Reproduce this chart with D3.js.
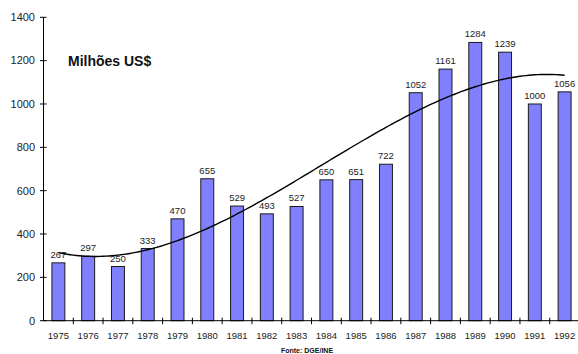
<!DOCTYPE html>
<html>
<head>
<meta charset="utf-8">
<script src="https://cdn.jsdelivr.net/npm/d3@7"></script>
<style>
  html, body { margin: 0; padding: 0; background: #fff; }
  svg { display: block; font-family: "Liberation Sans", Arial, sans-serif; }
</style>
</head>
<body>
<svg id="chart" width="578" height="354"></svg>
<script>
// Exports by year, millions of US dollars
const years = ["1975","1976","1977","1978","1979","1980","1981","1982","1983",
               "1984","1985","1986","1987","1988","1989","1990","1991","1992"];
const values = [267, 297, 250, 333, 470, 655, 529, 493, 527,
                650, 651, 722, 1052, 1161, 1284, 1239, 1000, 1056];
const yTicks = [0, 200, 400, 600, 800, 1000, 1200, 1400];
const unitLabel = "Milhões US$";
const sourceLabel = "Fonte: DGE/INE";

const svg = d3.select("#chart");
const plotL = 43.5, plotR = 579.5, plotT = 17.3, plotB = 320.7;

const x = d3.scaleBand().domain(years).range([plotL, plotR]).padding(0);
const y = d3.scaleLinear().domain([0, 1400]).range([plotB, plotT]);
const barW = x.bandwidth() * 0.435;

// bars
svg.append("g").selectAll("rect").data(values).join("rect")
  .attr("x", (d, i) => x(years[i]) + (x.bandwidth() - barW) / 2)
  .attr("y", d => y(d))
  .attr("width", barW)
  .attr("height", d => y(0) - y(d))
  .attr("fill", "#8080ff")
  .attr("stroke", "#1a1a1a")
  .attr("stroke-width", 1);

// value labels
svg.append("g").selectAll("text").data(values).join("text")
  .attr("x", (d, i) => x(years[i]) + x.bandwidth() / 2)
  .attr("y", d => y(d) - 5)
  .attr("text-anchor", "middle")
  .attr("font-size", 9.5)
  .attr("fill", "#222")
  .text(d => d);

// cubic least-squares trend through the yearly values (x = 1..n)
function polyFit(xs, ys, order) {
  const m = order + 1;
  const A = Array.from({length: m}, () => new Array(m + 1).fill(0));
  xs.forEach((xv, k) => {
    for (let r = 0; r < m; r++) {
      for (let c = 0; c < m; c++) A[r][c] += Math.pow(xv, r + c);
      A[r][m] += ys[k] * Math.pow(xv, r);
    }
  });
  for (let i = 0; i < m; i++) {
    let p = i;
    for (let r = i + 1; r < m; r++) if (Math.abs(A[r][i]) > Math.abs(A[p][i])) p = r;
    [A[i], A[p]] = [A[p], A[i]];
    for (let r = 0; r < m; r++) {
      if (r === i) continue;
      const f = A[r][i] / A[i][i];
      for (let c = i; c <= m; c++) A[r][c] -= f * A[i][c];
    }
  }
  return A.map((row, i) => row[m] / row[i]);
}
const idx = values.map((d, i) => i + 1);
const coef = polyFit(idx, values, 3);
const trend = t => coef.reduce((s, c, k) => s + c * Math.pow(t, k), 0);
const step = x.step();
const x0 = x(years[0]) + x.bandwidth() / 2;
const ts = d3.range(1, values.length + 0.001, 0.1);
svg.append("path")
  .datum(ts)
  .attr("fill", "none")
  .attr("stroke", "#000")
  .attr("stroke-width", 1.4)
  .attr("d", d3.line().x(t => x0 + (t - 1) * step).y(t => y(trend(t))));

// y axis
const gy = svg.append("g");
gy.append("line").attr("x1", plotL).attr("x2", plotL).attr("y1", plotT).attr("y2", plotB)
  .attr("stroke", "#000");
gy.selectAll("line.t").data(yTicks).join("line").attr("class", "t")
  .attr("x1", plotL - 3.5).attr("x2", plotL + 3)
  .attr("y1", d => y(d)).attr("y2", d => y(d)).attr("stroke", "#000");
gy.selectAll("text").data(yTicks).join("text")
  .attr("x", 35).attr("y", d => y(d)).attr("dy", "0.35em")
  .attr("text-anchor", "end").attr("font-size", 11).attr("fill", "#222")
  .text(d => d);

// x axis
const gx = svg.append("g");
gx.append("line").attr("x1", plotL).attr("x2", plotR).attr("y1", plotB).attr("y2", plotB)
  .attr("stroke", "#000");
gx.selectAll("line.t").data(years.slice(1)).join("line").attr("class", "t")
  .attr("x1", d => x(d)).attr("x2", d => x(d))
  .attr("y1", plotB - 3).attr("y2", plotB + 3.5).attr("stroke", "#000");
gx.selectAll("text").data(years).join("text")
  .attr("x", d => x(d) + x.bandwidth() / 2).attr("y", 336).attr("dy", "0.35em")
  .attr("text-anchor", "middle").attr("font-size", 9.5).attr("fill", "#222")
  .text(d => d);

// titles
svg.append("text").attr("x", 68).attr("y", 65.5)
  .attr("font-size", 14).attr("font-weight", "bold").attr("fill", "#111")
  .text(unitLabel);
svg.append("text").attr("x", 307).attr("y", 352.5).attr("text-anchor", "middle")
  .attr("font-size", 7).attr("font-weight", "bold").attr("fill", "#111")
  .text(sourceLabel);
</script>
</body>
</html>
